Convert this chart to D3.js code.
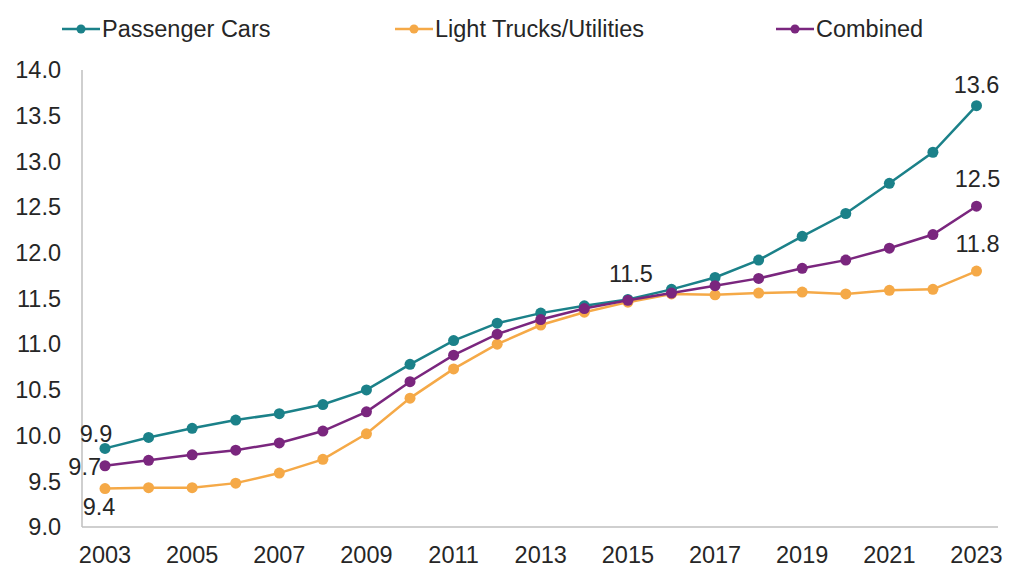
<!DOCTYPE html>
<html>
<head>
<meta charset="utf-8">
<script src="https://cdn.jsdelivr.net/npm/d3@7"></script>
<style>
  html, body { margin: 0; padding: 0; background: #fff; }
  svg { display: block; font-family: "Liberation Sans", Arial, sans-serif; }
</style>
</head>
<body>
<div id="chart"></div>
<script>
const years = d3.range(2003, 2024);
const yTicks = [9.0, 9.5, 10.0, 10.5, 11.0, 11.5, 12.0, 12.5, 13.0, 13.5, 14.0];
const xTicks = [2003, 2005, 2007, 2009, 2011, 2013, 2015, 2017, 2019, 2021, 2023];

// values
const passengerCars = [9.86, 9.98, 10.08, 10.17, 10.24, 10.34, 10.50, 10.78, 11.04, 11.23, 11.34,
  11.42, 11.49, 11.60, 11.73, 11.92, 12.18, 12.43, 12.76, 13.10, 13.61];
const lightTrucks = [9.42, 9.43, 9.43, 9.48, 9.59, 9.74, 10.02, 10.41, 10.73, 11.00, 11.21,
  11.35, 11.46, 11.55, 11.54, 11.56, 11.57, 11.55, 11.59, 11.60, 11.80];
const combined = [9.67, 9.73, 9.79, 9.84, 9.92, 10.05, 10.26, 10.59, 10.88, 11.11, 11.27,
  11.39, 11.48, 11.56, 11.64, 11.72, 11.83, 11.92, 12.05, 12.20, 12.51];

const series = [
  { name: "Passenger Cars", values: passengerCars, color: "#1b8189" },
  { name: "Light Trucks/Utilities", values: lightTrucks, color: "#f5a947" },
  { name: "Combined", values: combined, color: "#7a267e" }
];

// point labels: [series index, year, text, dx, dy, anchor]
const pointLabels = [
  [0, 2003, "9.9", -9, -15, "middle"],
  [2, 2003, "9.7", -4, 1, "end"],
  [1, 2003, "9.4", -6, 18, "middle"],
  [2, 2015, "11.5", 3, -27, "middle"],
  [0, 2023, "13.6", 0, -21, "middle"],
  [2, 2023, "12.5", 1, -27, "middle"],
  [1, 2023, "11.8", 1, -27, "middle"]
];

const width = 1024, height = 588;
const fontSize = 23.5;
const svg = d3.select("#chart").append("svg")
  .attr("width", width)
  .attr("height", height);

const x = d3.scaleLinear().domain([2003, 2023]).range([105, 976.5]);
const y = d3.scaleLinear().domain([9, 14]).range([527, 70]);

const axisColor = "#bfbfbf";
const textColor = "#262626";

// axes lines
svg.append("line")
  .attr("x1", 82).attr("x2", 82)
  .attr("y1", 70).attr("y2", 527)
  .attr("stroke", axisColor).attr("stroke-width", 1.5);
svg.append("line")
  .attr("x1", 82).attr("x2", 998)
  .attr("y1", 527).attr("y2", 527)
  .attr("stroke", axisColor).attr("stroke-width", 1.5);

// y tick labels
svg.append("g")
  .selectAll("text")
  .data(yTicks)
  .join("text")
  .attr("x", 61)
  .attr("y", d => y(d))
  .attr("dy", "0.35em")
  .attr("text-anchor", "end")
  .attr("font-size", fontSize)
  .attr("fill", textColor)
  .text(d => d.toFixed(1));

// x tick labels
svg.append("g")
  .selectAll("text")
  .data(xTicks)
  .join("text")
  .attr("x", d => x(d))
  .attr("y", 555)
  .attr("dy", "0.35em")
  .attr("text-anchor", "middle")
  .attr("font-size", fontSize)
  .attr("fill", textColor)
  .text(d => d);

const line = d3.line()
  .x((d, i) => x(years[i]))
  .y(d => y(d));

const g = svg.append("g")
  .selectAll("g")
  .data(series)
  .join("g");

g.append("path")
  .attr("d", d => line(d.values))
  .attr("fill", "none")
  .attr("stroke", d => d.color)
  .attr("stroke-width", 2.5);

g.selectAll("circle")
  .data(d => d.values.map((v, i) => ({ v, year: years[i], color: d.color })))
  .join("circle")
  .attr("cx", d => x(d.year))
  .attr("cy", d => y(d.v))
  .attr("r", 5.5)
  .attr("fill", d => d.color);

// data labels
svg.append("g")
  .selectAll("text")
  .data(pointLabels)
  .join("text")
  .attr("x", d => x(d[1]) + d[3])
  .attr("y", d => y(series[d[0]].values[d[1] - 2003]) + d[4])
  .attr("dy", "0.35em")
  .attr("text-anchor", d => d[5])
  .attr("font-size", fontSize)
  .attr("fill", textColor)
  .text(d => d[2]);

// legend
const legendX = [62, 395, 776];
const legend = svg.append("g")
  .selectAll("g")
  .data(series)
  .join("g")
  .attr("transform", (d, i) => `translate(${legendX[i]},29)`);

legend.append("line")
  .attr("x1", 0).attr("x2", 38)
  .attr("stroke", d => d.color)
  .attr("stroke-width", 2.5);
legend.append("circle")
  .attr("cx", 19)
  .attr("r", 4.5)
  .attr("fill", d => d.color);
legend.append("text")
  .attr("x", 40)
  .attr("dy", "0.35em")
  .attr("font-size", fontSize)
  .attr("fill", textColor)
  .text(d => d.name);
</script>
</body>
</html>
